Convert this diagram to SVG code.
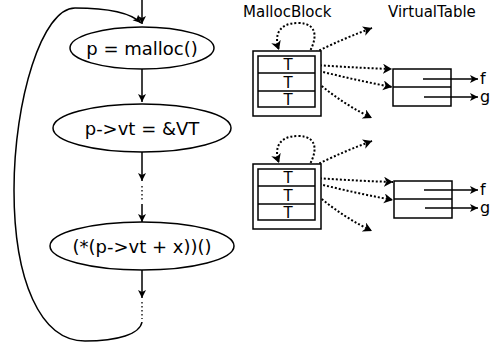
<svg xmlns="http://www.w3.org/2000/svg" width="494" height="345" viewBox="0 0 494 345">
<defs>
<style>
.ln{fill:none;stroke:#000;stroke-width:1.5}
.el{fill:#fff;stroke:#000;stroke-width:1.5}
.bx{fill:#fff;stroke:#000;stroke-width:1.5}
.dt{fill:none;stroke:#000;stroke-width:2;stroke-dasharray:2 2}
.vd{fill:none;stroke:#000;stroke-width:1.3;stroke-dasharray:1.5 2.5}
.t{font-family:"DejaVu Sans",sans-serif;fill:#000}
.big{font-size:18px;text-anchor:middle}
.lbl{font-size:15px}
.cell{font-size:15px;text-anchor:middle}
.fg{font-size:16px}
</style>
<marker id="ah" markerWidth="10" markerHeight="10" refX="8" refY="4" orient="auto" markerUnits="userSpaceOnUse">
<path d="M0,0 L8,4 L0,8 L2,4 Z" fill="#000"/>
</marker>
<marker id="ad" markerWidth="12" markerHeight="12" refX="9" refY="5" orient="auto" markerUnits="userSpaceOnUse">
<path d="M0,0 L9,5 L0,10 L2.5,5 Z" fill="#000"/>
</marker>
</defs>

<g id="connectors">
<line class="ln" x1="142" y1="0" x2="142" y2="24" marker-end="url(#ah)"/>
<line class="ln" x1="142" y1="69" x2="142" y2="102" marker-end="url(#ah)"/>
<line class="ln" x1="142" y1="152" x2="142" y2="181" marker-end="url(#ah)"/>
<line class="vd" x1="142" y1="186" x2="142" y2="201"/>
<line class="ln" x1="142" y1="204" x2="142" y2="222" marker-end="url(#ah)"/>
<line class="ln" x1="142" y1="270" x2="142" y2="298" marker-end="url(#ah)"/>
<line class="vd" x1="142" y1="302" x2="142" y2="319"/>
<path class="ln" d="M142,322 C140,334 118,341 85,341 C40,341 14,280 14,190 C14,100 42,8 75,8 C108,8 130,12 141,23" marker-end="url(#ah)"/>

<g id="mb1-links">
<path class="dt" d="M304,60 C318,42 320,23 298,23 C278,23 274,36 279,50" marker-end="url(#ad)"/>
<path class="dt" d="M302,60 C318,50 345,38 372,28" marker-end="url(#ad)"/>
<path class="dt" d="M300,64 C330,66 360,68 392,69" marker-end="url(#ad)"/>
<path class="dt" d="M300,66 C330,74 360,81 392,87" marker-end="url(#ad)"/>
<path class="dt" d="M304,70 C322,88 345,105 372,118" marker-end="url(#ad)"/>
<path class="dt" d="M306,58 C302,62 302,68 306,72"/>
<path class="dt" d="M310,58 C306,62 306,68 310,72"/>
</g>
<g id="mb2-links" transform="translate(0,113)">
<path class="dt" d="M304,60 C318,42 320,23 298,23 C278,23 274,36 279,50" marker-end="url(#ad)"/>
<path class="dt" d="M302,60 C318,50 345,38 372,28" marker-end="url(#ad)"/>
<path class="dt" d="M300,64 C330,66 360,68 393,69" marker-end="url(#ad)"/>
<path class="dt" d="M300,66 C330,74 360,81 393,87" marker-end="url(#ad)"/>
<path class="dt" d="M304,70 C322,88 345,105 372,118" marker-end="url(#ad)"/>
<path class="dt" d="M306,58 C302,62 302,68 306,72"/>
<path class="dt" d="M310,58 C306,62 306,68 310,72"/>
</g>
</g>

<g id="n1">
<ellipse class="el" cx="142" cy="48" rx="72" ry="21"/>
<text class="t big" x="142" y="54.5">p = malloc()</text>
</g>
<g id="n2">
<ellipse class="el" cx="142" cy="128" rx="89" ry="24"/>
<text class="t big" x="142" y="134.5">p-&gt;vt = &amp;VT</text>
</g>
<g id="n3">
<ellipse class="el" cx="142" cy="246" rx="92" ry="24"/>
<text class="t big" x="142" y="252.5">(*(p-&gt;vt + x))()</text>
</g>

<g id="labels">
<text class="t lbl" x="243" y="17">MallocBlock</text>
<text class="t lbl" x="388" y="17">VirtualTable</text>
</g>

<g id="mallocblock1">
<rect class="bx" x="253" y="51" width="68" height="65"/>
<rect class="bx" x="258" y="56" width="57" height="51"/>
<line class="ln" x1="258" y1="73" x2="315" y2="73"/>
<line class="ln" x1="258" y1="91" x2="315" y2="91"/>
<text class="t cell" x="288" y="70">T</text>
<text class="t cell" x="288" y="88">T</text>
<text class="t cell" x="288" y="105">T</text>
</g>
<g id="vt1">
<rect class="bx" x="393" y="69" width="58" height="37"/>
<line class="ln" x1="393" y1="87" x2="451" y2="87"/>
<line class="ln" x1="423" y1="79" x2="478" y2="79" marker-end="url(#ah)"/>
<line class="ln" x1="424" y1="97" x2="478" y2="97" marker-end="url(#ah)"/>
<text class="t fg" x="480" y="84">f</text>
<text class="t fg" x="480" y="102">g</text>
</g>

<g id="mallocblock2">
<rect class="bx" x="253" y="164" width="68" height="65"/>
<rect class="bx" x="258" y="169" width="57" height="51"/>
<line class="ln" x1="258" y1="186" x2="315" y2="186"/>
<line class="ln" x1="258" y1="204" x2="315" y2="204"/>
<text class="t cell" x="288" y="183">T</text>
<text class="t cell" x="288" y="201">T</text>
<text class="t cell" x="288" y="218">T</text>
</g>
<g id="vt2">
<rect class="bx" x="394" y="181" width="58" height="37"/>
<line class="ln" x1="394" y1="199" x2="452" y2="199"/>
<line class="ln" x1="424" y1="190" x2="478" y2="190" marker-end="url(#ah)"/>
<line class="ln" x1="425" y1="208" x2="478" y2="208" marker-end="url(#ah)"/>
<text class="t fg" x="480" y="195">f</text>
<text class="t fg" x="480" y="213">g</text>
</g>
</svg>
